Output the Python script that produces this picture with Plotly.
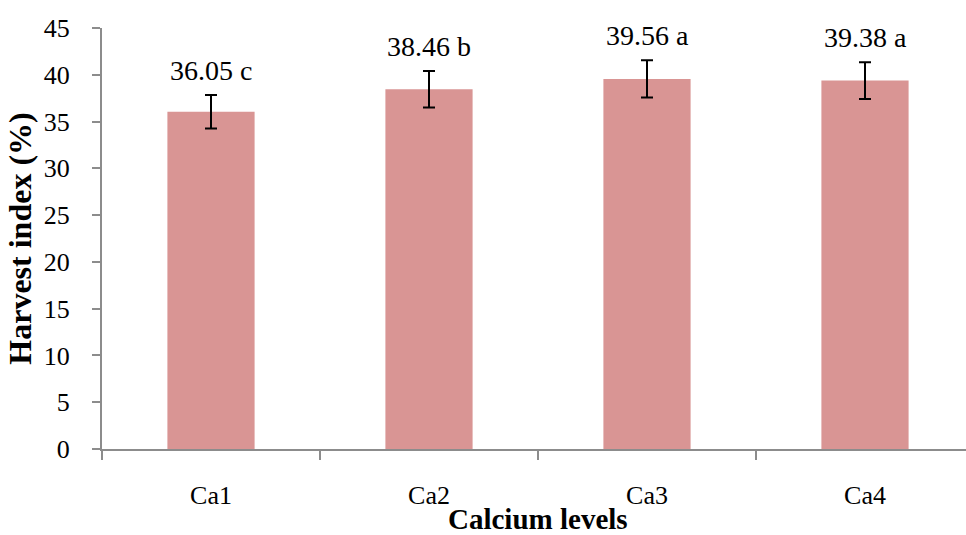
import plotly.graph_objects as go

categories = ["Ca1", "Ca2", "Ca3", "Ca4"]
values = [36.05, 38.46, 39.56, 39.38]
errors = [1.78, 1.95, 2.0, 1.97]
letters = ["c", "b", "a", "a"]
y_ticks = [0, 5, 10, 15, 20, 25, 30, 35, 40, 45]

FONT = "Times New Roman, Liberation Serif, serif"

fig = go.Figure()
fig.add_trace(go.Bar(
    x=list(range(len(categories))),
    y=values,
    width=0.40,
    marker=dict(color="#D99594", line=dict(width=0)),
    error_y=dict(type="data", array=errors, visible=True, color="black",
                 thickness=2, width=6),
))

for i, (v, e, l) in enumerate(zip(values, errors, letters)):
    fig.add_annotation(x=i, y=v + e, xref="x", yref="y",
                       text=f"{v:.2f} {l}", showarrow=False,
                       yanchor="bottom", yshift=7,
                       font=dict(family=FONT, size=28, color="black"))

fig.add_annotation(x=1.5, xref="x", y=0, yref="paper",
                   text="<b>Calcium levels</b>", showarrow=False,
                   yanchor="middle", yshift=-70, borderpad=0,
                   font=dict(family=FONT, size=29, color="black"))

axis_color = "#8C8C8C"
fig.update_layout(
    width=966, height=535,
    margin=dict(l=102, r=0, t=28, b=86),
    plot_bgcolor="white", paper_bgcolor="white",
    showlegend=False,
    font=dict(family=FONT, size=26, color="black"),
    xaxis=dict(
        range=[-0.5, 3.5 - 8 / 218],
        tickmode="array", tickvals=list(range(len(categories))),
        ticktext=categories,
        showgrid=False, zeroline=False,
        showline=True, linecolor=axis_color, linewidth=2,
        ticks="", ticklabelstandoff=22,
        tickfont=dict(family=FONT, size=26, color="black"),
        minor=dict(tickvals=[-0.5, 0.5, 1.5, 2.5], ticks="outside",
                   ticklen=9, tickcolor=axis_color, tickwidth=2),
    ),
    yaxis=dict(
        range=[0, 45],
        tickmode="array", tickvals=y_ticks,
        showgrid=False, zeroline=False,
        showline=True, linecolor=axis_color, linewidth=2,
        ticks="outside", ticklen=8, tickcolor=axis_color, tickwidth=2,
        ticklabelstandoff=17,
        tickfont=dict(family=FONT, size=26, color="black"),
        title=dict(text="<b>Harvest index (%)</b>", standoff=3,
                   font=dict(family=FONT, size=32, color="black")),
    ),
)

fig.write_html("out.html")
